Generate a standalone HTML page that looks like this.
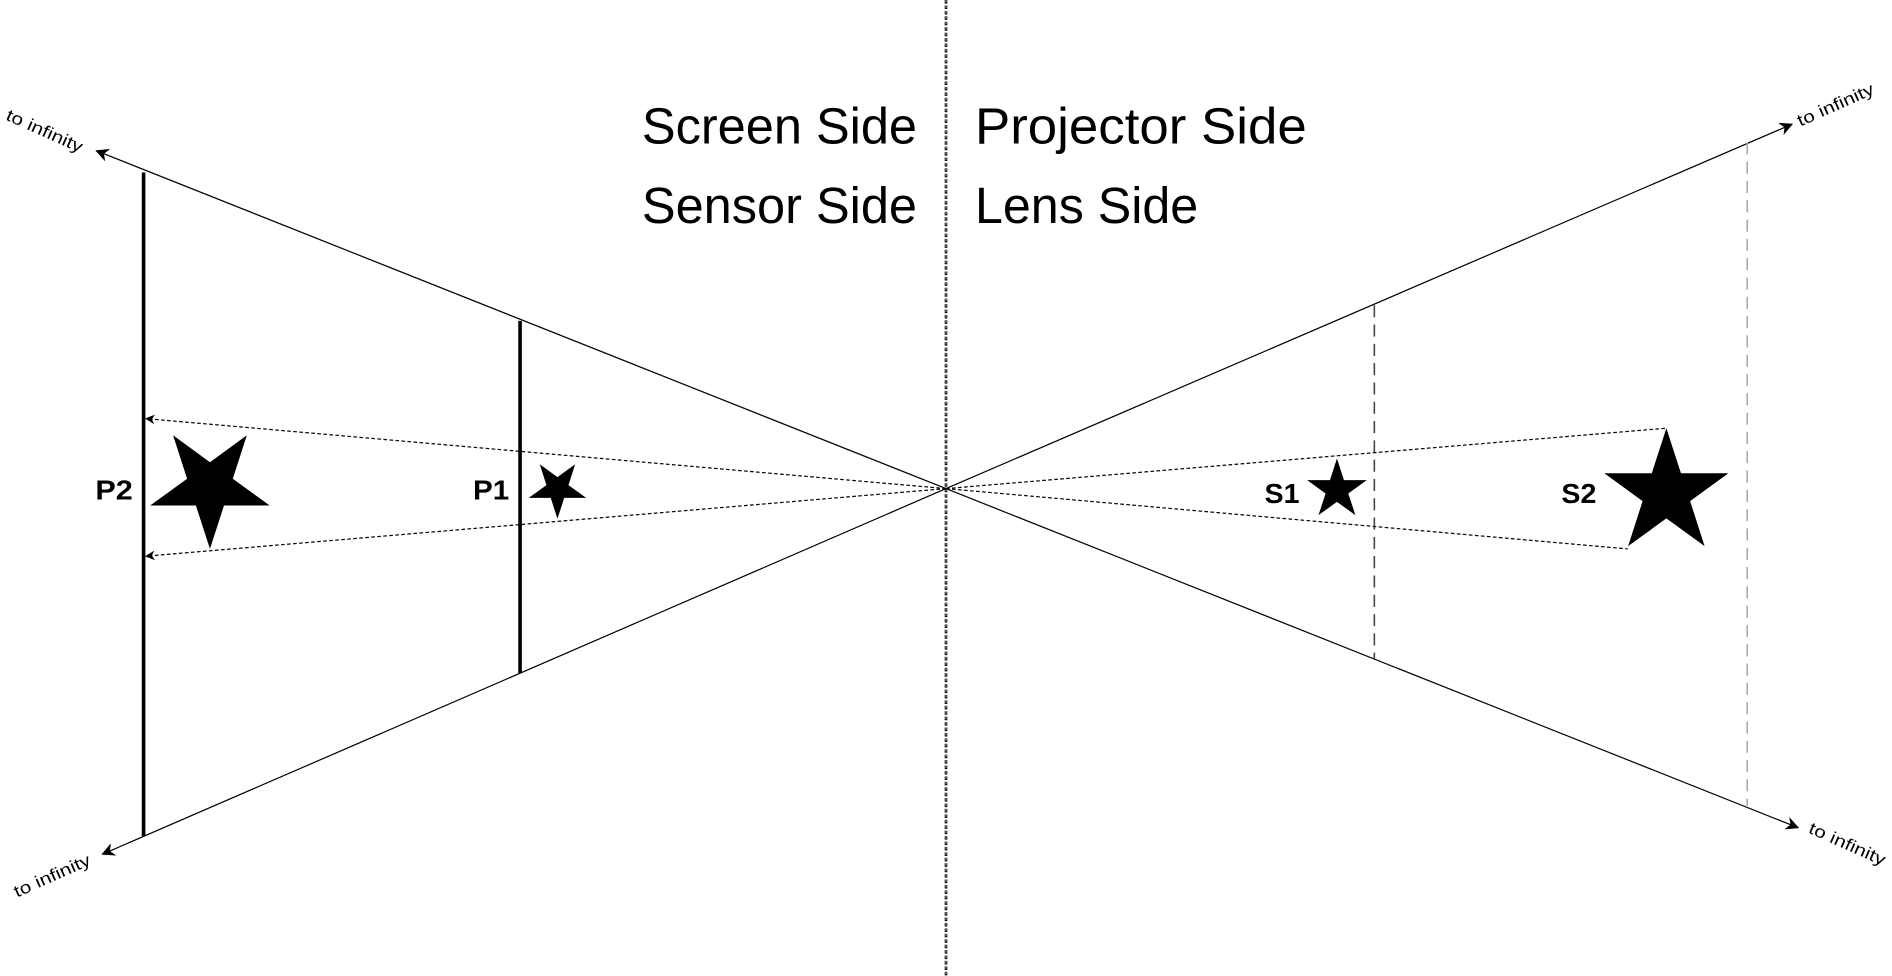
<!DOCTYPE html>
<html><head><meta charset="utf-8"><style>html,body{margin:0;padding:0;background:#fff;overflow:hidden}svg{display:block}</style></head>
<body>
<svg width="1892" height="976" viewBox="0 0 1568 809" preserveAspectRatio="none" xmlns="http://www.w3.org/2000/svg">
<defs>
<marker id="a" viewBox="0 0 10 10" refX="9" refY="5" markerWidth="11" markerHeight="11" markerUnits="userSpaceOnUse" orient="auto"><path d="M0,0 L10,5 L0,10 L3,5 Z" fill="#000"/></marker>
<marker id="b" viewBox="0 0 10 10" refX="9" refY="5" markerWidth="8" markerHeight="8" markerUnits="userSpaceOnUse" orient="auto"><path d="M0,0 L10,5 L0,10 L3,5 Z" fill="#000"/></marker>
</defs>
<rect width="1568" height="809" fill="#fff"/>
<line x1="784" y1="0" x2="784" y2="809" stroke="#111" stroke-width="2.2" stroke-dasharray="3 1.5"/>
<line x1="784" y1="0" x2="784" y2="809" stroke="#fff" stroke-width="0.5" stroke-dasharray="2 2.5"/>
<g stroke="#000" stroke-width="1" fill="none">
<line x1="784" y1="405" x2="80" y2="125" marker-end="url(#a)"/>
<line x1="784" y1="405" x2="85" y2="708" marker-end="url(#a)"/>
<line x1="784" y1="405" x2="1485" y2="103" marker-end="url(#a)"/>
<line x1="784" y1="405" x2="1490" y2="686" marker-end="url(#a)"/>
</g>
<line x1="119" y1="143" x2="119" y2="693" stroke="#000" stroke-width="3"/>
<line x1="431" y1="266" x2="431" y2="558" stroke="#000" stroke-width="3"/>
<line x1="1139" y1="253" x2="1139" y2="546" stroke="#444" stroke-width="1.3" stroke-dasharray="10 6"/>
<line x1="1448" y1="118" x2="1448" y2="668" stroke="#aaa" stroke-width="1.3" stroke-dasharray="10 6"/>
<g stroke="#000" stroke-width="1" fill="none" stroke-dasharray="3 2">
<line x1="784" y1="405" x2="121" y2="347" marker-end="url(#b)"/>
<line x1="784" y1="405" x2="121" y2="461" marker-end="url(#b)"/>
<line x1="784" y1="405" x2="1380" y2="355"/>
<line x1="784" y1="405" x2="1349" y2="455"/>
</g>
<g fill="#000">
<polygon points="174,453 162.8,418.5 126.4,418.5 155.8,397.1 144.6,362.5 174,384 203.4,362.5 192.2,397.1 221.6,418.5 185.2,418.5" transform="translate(174 405) scale(1.04) translate(-174 -405)"/>
<polygon points="462,430 456.4,412.7 438.2,412.7 452.9,402.1 447.3,384.8 462,395.5 476.7,384.8 471.1,402.1 485.8,412.7 467.6,412.7"/>
<polygon points="1108,380 1113.8,398 1132.7,398 1117.4,409.1 1123.3,427 1108,416 1092.7,427 1098.6,409.1 1083.3,398 1102.2,398"/>
<polygon points="1381,355 1393.1,392.3 1432.4,392.3 1400.7,415.4 1412.7,452.7 1381,429.7 1349.3,452.7 1361.3,415.4 1329.6,392.3 1368.9,392.3"/>
</g>
<g font-family="Liberation Sans, sans-serif" font-size="42" fill="#000">
<text x="532" y="119" textLength="228" lengthAdjust="spacingAndGlyphs">Screen Side</text>
<text x="808" y="119" textLength="275" lengthAdjust="spacingAndGlyphs">Projector Side</text>
<text x="532" y="185" textLength="228" lengthAdjust="spacingAndGlyphs">Sensor Side</text>
<text x="808" y="185" textLength="185" lengthAdjust="spacingAndGlyphs">Lens Side</text>
</g>
<g font-family="Liberation Sans, sans-serif" font-size="23" font-weight="bold" fill="#000">
<text x="79" y="414" textLength="31" lengthAdjust="spacingAndGlyphs">P2</text>
<text x="392" y="414" textLength="30" lengthAdjust="spacingAndGlyphs">P1</text>
<text x="1048" y="417" textLength="29" lengthAdjust="spacingAndGlyphs">S1</text>
<text x="1294" y="417" textLength="29" lengthAdjust="spacingAndGlyphs">S2</text>
</g>
<g font-family="Liberation Sans, sans-serif" font-size="14" fill="#000">
<text transform="translate(4,99) rotate(24)" textLength="68" lengthAdjust="spacingAndGlyphs">to infinity</text>
<text transform="translate(14,744) rotate(-24)" textLength="68" lengthAdjust="spacingAndGlyphs">to infinity</text>
<text transform="translate(1492,105) rotate(-24)" textLength="68" lengthAdjust="spacingAndGlyphs">to infinity</text>
<text transform="translate(1498,690) rotate(24)" textLength="68" lengthAdjust="spacingAndGlyphs">to infinity</text>
</g>
</svg>
</body></html>
